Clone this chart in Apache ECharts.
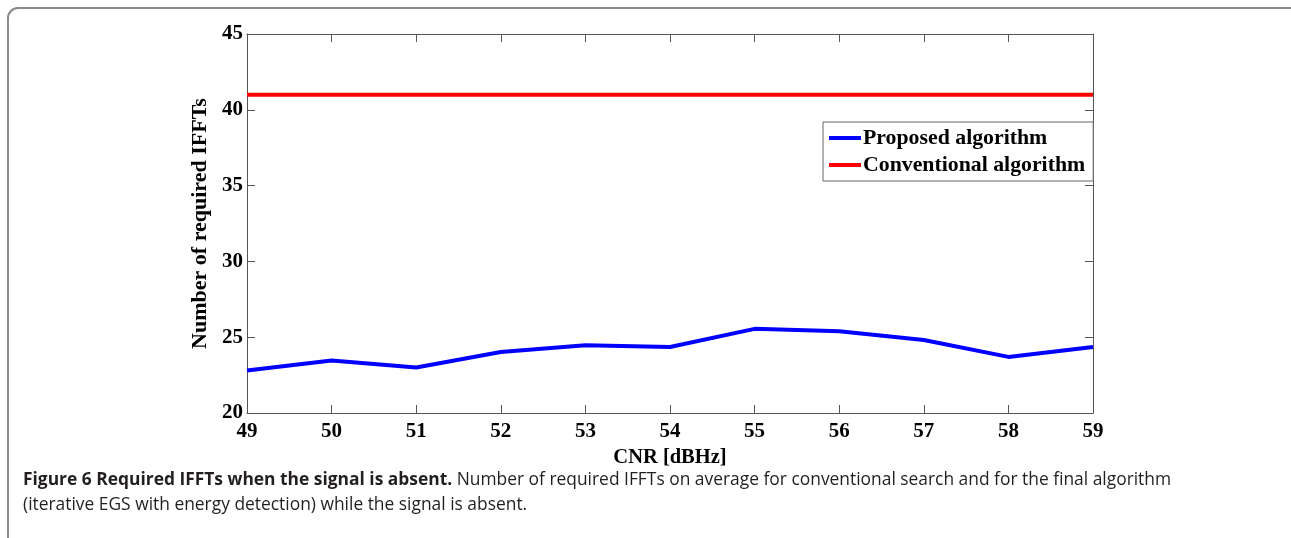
<!DOCTYPE html>
<html>
<head>
<meta charset="utf-8">
<style>
  html, body { margin: 0; padding: 0; background: #fff; }
  #chart { width: 1291px; height: 538px; }
</style>
<script src="https://cdn.jsdelivr.net/npm/echarts@6/dist/echarts.min.js"></script>
</head>
<body>
<div id="chart"></div>
<script>
// CNR values (dBHz) on the x axis
const cnr = [49, 50, 51, 52, 53, 54, 55, 56, 57, 58, 59];
// Average number of IFFTs needed by each search method
const proposed = [22.8, 23.47, 23.0, 24.02, 24.47, 24.35, 25.55, 25.4, 24.82, 23.7, 24.35];
const conventional = [41, 41, 41, 41, 41, 41, 41, 41, 41, 41, 41];
const seriesNames = ['Proposed algorithm', 'Conventional algorithm'];
const xTitle = 'CNR [dBHz]';
const yTitle = 'Number of required IFFTs';
const captionBold = 'Figure 6 Required IFFTs when the signal is absent.';
const captionLine1 = ' Number of required IFFTs on average for conventional search and for the final algorithm';
const captionLine2 = '(iterative EGS with energy detection) while the signal is absent.';

const serif = '"Liberation Serif", "DejaVu Serif", serif';
const sans = '"Open Sans", "Noto Sans", sans-serif';
const axisGray = '#555';

const chart = echarts.init(document.getElementById('chart'), null, { renderer: 'canvas' });

const pair = (vals) => cnr.map((x, i) => [x, vals[i]]);

const labelStyle = { fontFamily: serif, fontWeight: 'bold', fontSize: 21, color: '#000' };

const option = {
  animation: false,
  backgroundColor: '#fff',
  grid: { left: 247, top: 34, right: 198, bottom: 125, containLabel: false },
  legend: {
    orient: 'vertical',
    left: 823,
    top: 122,
    itemWidth: 32,
    itemHeight: 4,
    itemGap: 5,
    icon: 'rect',
    padding: [5, 8, 5, 6],
    borderColor: '#666',
    borderWidth: 1,
    backgroundColor: '#fff',
    textStyle: { fontFamily: serif, fontWeight: 'bold', fontSize: 21.8, color: '#000', padding: [0, 0, 0, -3] },
    data: seriesNames
  },
  xAxis: [
    {
      type: 'value', min: 49, max: 59, interval: 1,
      name: xTitle, nameLocation: 'middle', nameGap: 31,
      nameTextStyle: { fontFamily: serif, fontWeight: 'bold', fontSize: 20.5, color: '#000' },
      axisLine: { show: true, onZero: false, lineStyle: { color: axisGray, width: 1 } },
      axisTick: { show: true, inside: true, length: 8, lineStyle: { color: axisGray } },
      axisLabel: Object.assign({ margin: 8 }, labelStyle),
      splitLine: { show: false }
    },
    {
      type: 'value', min: 49, max: 59, interval: 1, position: 'top',
      axisLine: { show: true, onZero: false, lineStyle: { color: axisGray, width: 1 } },
      axisTick: { show: true, inside: true, length: 8, lineStyle: { color: axisGray } },
      axisLabel: { show: false },
      splitLine: { show: false }
    }
  ],
  yAxis: [
    {
      type: 'value', min: 20, max: 45, interval: 5,
      name: yTitle, nameLocation: 'middle', nameGap: 32, nameRotate: 90,
      nameTextStyle: { fontFamily: serif, fontWeight: 'bold', fontSize: 22, color: '#000' },
      axisLine: { show: true, onZero: false, lineStyle: { color: axisGray, width: 1 } },
      axisTick: { show: true, inside: true, length: 8, lineStyle: { color: axisGray } },
      axisLabel: Object.assign({ margin: 4 }, labelStyle),
      splitLine: { show: false }
    },
    {
      type: 'value', min: 20, max: 45, interval: 5, position: 'right',
      axisLine: { show: true, onZero: false, lineStyle: { color: axisGray, width: 1 } },
      axisTick: { show: true, inside: true, length: 8, lineStyle: { color: axisGray } },
      axisLabel: { show: false },
      splitLine: { show: false }
    }
  ],
  series: [
    {
      name: seriesNames[0], type: 'line', data: pair(proposed),
      showSymbol: false, symbol: 'none',
      lineStyle: { color: '#0000ff', width: 4 }, itemStyle: { color: '#0000ff' },
      z: 3
    },
    {
      name: seriesNames[1], type: 'line', data: pair(conventional),
      showSymbol: false, symbol: 'none',
      lineStyle: { color: '#ff0000', width: 4 }, itemStyle: { color: '#ff0000' },
      z: 3
    }
  ],
  graphic: [
    {
      // rounded panel frame around the figure
      type: 'rect', silent: true,
      shape: { x: 8, y: 8, width: 1300, height: 560, r: 10 },
      style: { fill: 'none', stroke: '#8a8a8a', lineWidth: 2 }
    },
    {
      type: 'text', silent: true, left: 23, top: 472,
      style: {
        text: '{b|' + captionBold + '}{r|' + captionLine1 + '}',
        rich: {
          b: { fontFamily: sans, fontWeight: 'bold', fontSize: 17.4, fill: '#231f20' },
          r: { fontFamily: sans, fontWeight: 'normal', fontSize: 17.4, fill: '#231f20' }
        }
      }
    },
    {
      type: 'text', silent: true, left: 23, top: 497,
      style: { text: captionLine2, fontFamily: sans, fontSize: 17.4, fill: '#231f20' }
    }
  ]
};

chart.setOption(option);
</script>
</body>
</html>
